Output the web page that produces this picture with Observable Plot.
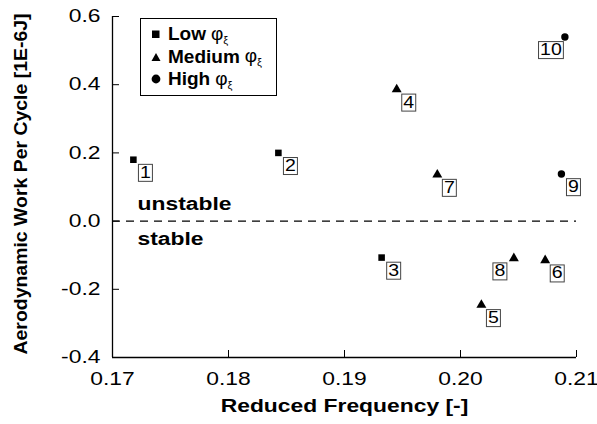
<!DOCTYPE html>
<html>
<head>
<meta charset="utf-8">
<script src="https://cdn.jsdelivr.net/npm/d3@7"></script>
<script src="https://cdn.jsdelivr.net/npm/@observablehq/plot@0.6"></script>
<style>
  html, body { margin: 0; padding: 0; background: white; }
  #wrap { position: relative; width: 597px; height: 424px; font-family: "Liberation Sans", Arial, Helvetica, sans-serif; }
  #legend { position: absolute; left: 140px; top: 18px; width: 135px; height: 76px; border: 1.5px solid black; background: white; font-weight: bold; font-size: 19px; color: black; }
  #legend .row { position: absolute; left: 10px; display: flex; align-items: center; height: 22px; white-space: nowrap; }
  #legend svg { margin-right: 7px; }
  #legend .phi { font-weight: normal; margin-left: 5px; }
  #legend sub { font-size: 11px; vertical-align: -4px; }
</style>
</head>
<body>
<div id="wrap"></div>
<script>
// ---- data ----
const ids = [1, 2, 3, 4, 5, 6, 7, 8, 9, 10];
const reducedFrequency = [0.1718, 0.1843, 0.1932, 0.1945, 0.2018, 0.2073, 0.1980, 0.2046, 0.2087, 0.2090];
const aeroWork = [0.18, 0.20, -0.107, 0.386, -0.246, -0.115, 0.136, -0.109, 0.138, 0.54];
const dampingLevel = ["Low", "Low", "Low", "Medium", "Medium", "Medium", "Medium", "Medium", "High", "High"];
const labelSide = ["right", "right", "right", "right", "right", "right", "right", "left", "right", "left"];
const levels = ["Low", "Medium", "High"];
const xTicks = [0.17, 0.18, 0.19, 0.20, 0.21];
const yTicks = [-0.4, -0.2, 0.0, 0.2, 0.4, 0.6];
const xDomain = [0.17, 0.21];
const yDomain = [-0.4, 0.6];
const stabilityLabels = [{t: "unstable", side: -1}, {t: "stable", side: 1}];
const xTitle = "Reduced Frequency [-]";
const yTitle = "Aerodynamic Work Per Cycle [1E-6J]";

const rows = ids.map((id, i) => ({id, x: reducedFrequency[i], y: aeroWork[i], level: dampingLevel[i], side: labelSide[i]}));

const W = 597, H = 424, mL = 112, mR = 21, mT = 16, mB = 67;
const frameW = W - mL - mR, frameH = H - mT - mB;
const font = "'Liberation Sans', Arial, Helvetica, sans-serif";

const chart = Plot.plot({
  width: W, height: H,
  marginLeft: mL, marginRight: mR, marginTop: mT, marginBottom: mB,
  style: {fontFamily: font, fontSize: "18px", color: "black", background: "white", overflow: "visible"},
  x: {domain: xDomain},
  y: {domain: yDomain},
  symbol: {domain: levels, range: ["square", "triangle", "circle"]},
  marks: [
    Plot.ruleY([0], {stroke: "black", strokeWidth: 1.2, strokeDasharray: "8,6"}),
    Plot.ruleX([xDomain[0]], {stroke: "black", strokeWidth: 1.3}),
    Plot.ruleY([yDomain[0]], {stroke: "black", strokeWidth: 1.3}),
    Plot.tickY(yTicks, {y: d => d, insetRight: frameW - 7, stroke: "black"}),
    Plot.tickX(xTicks, {x: d => d, insetTop: frameH - 7, stroke: "black"}),
    Plot.axisY(yTicks, {tickSize: 0, tickPadding: 12, tickFormat: d => d.toFixed(1), label: null, fontSize: 18}),
    Plot.axisX(xTicks, {tickSize: 0, tickPadding: 15, tickFormat: d => d.toFixed(2), label: null, fontSize: 18}),
    Plot.dot(rows, {x: "x", y: "y", symbol: "level", r: 3.7, fill: "black", stroke: null}),
    Plot.text(rows.filter(d => d.side === "right"), {x: "x", y: "y", text: d => String(d.id), dx: 12, dy: 13, fontSize: 16, className: "ptlabel"}),
    Plot.text(rows.filter(d => d.side === "left"), {x: "x", y: "y", text: d => String(d.id), dx: -14, dy: 13, fontSize: 16, className: "ptlabel"}),
    Plot.text(stabilityLabels.filter(d => d.side < 0), {y: () => 0, frameAnchor: "left", text: "t", textAnchor: "start", dx: 25, dy: -17, fontSize: 18, fontWeight: "bold"}),
    Plot.text(stabilityLabels.filter(d => d.side > 0), {y: () => 0, frameAnchor: "left", text: "t", textAnchor: "start", dx: 25, dy: 18, fontSize: 18, fontWeight: "bold"}),
    Plot.text([yTitle], {frameAnchor: "left", dx: -91, dy: -3, rotate: -90, textAnchor: "middle", lineAnchor: "middle", text: d => d, fontSize: 18, fontWeight: "bold", className: "ytitle"}),
    Plot.text([xTitle], {frameAnchor: "bottom", dy: 49, textAnchor: "middle", lineAnchor: "middle", text: d => d, fontSize: 18, fontWeight: "bold"})
  ]
});

const wrap = document.getElementById("wrap");
wrap.appendChild(chart);

// boxes around point labels (measured before stretching; centre is kept)
const stretch = 1.27, labelStretch = 1.22;
d3.select(chart).selectAll("g.ptlabel text").each(function() {
  const bb = this.getBBox();
  const w = bb.width * labelStretch + 3, h = 17;
  const cx = bb.x + bb.width / 2, cy = bb.y + bb.height / 2;
  d3.select(this.parentNode).insert("rect", () => this)
    .attr("x", cx - w / 2).attr("y", cy - h / 2 + 0.5)
    .attr("width", w).attr("height", h)
    .attr("transform", this.getAttribute("transform"))
    .attr("fill", "white").attr("stroke", "#444").attr("stroke-width", 1);
});

// the reference's lettering is horizontally widened
d3.select(chart).selectAll("text").each(function() {
  const len = this.getComputedTextLength();
  let target;
  if (this.closest(".ytitle")) target = 341;
  else if (this.closest(".ptlabel")) target = len * labelStretch;
  else target = len * stretch;
  this.setAttribute("textLength", target);
  this.setAttribute("lengthAdjust", "spacingAndGlyphs");
});

// legend
const legend = document.createElement("div");
legend.id = "legend";
const symbolSvg = {
  Low: '<svg width="10" height="10"><rect x="1" y="1.5" width="7.5" height="7.5" fill="black"/></svg>',
  Medium: '<svg width="10" height="10"><path d="M5,1 L9.5,9 L0.5,9 Z" fill="black"/></svg>',
  High: '<svg width="10" height="10"><circle cx="5" cy="5" r="4.4" fill="black"/></svg>'
};
levels.forEach((lv, i) => {
  const row = document.createElement("div");
  row.className = "row";
  row.style.top = (4 + i * 22.5) + "px";
  row.innerHTML = symbolSvg[lv] + '<span>' + lv + '</span><span class="phi">φ<sub>ξ</sub></span>';
  legend.appendChild(row);
});
wrap.appendChild(legend);
</script>
</body>
</html>
